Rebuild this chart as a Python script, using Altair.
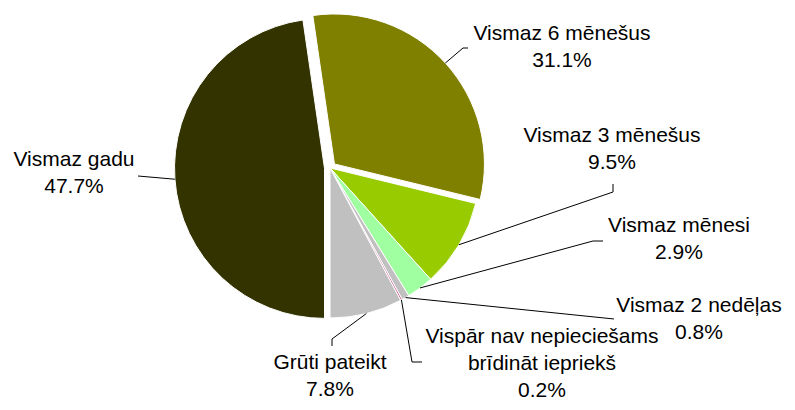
import math
import numpy as np
import pandas as pd
import altair as alt

# ---- data ----
categories = [
    "Vismaz gadu",
    "Vismaz 6 mēnešus",
    "Vismaz 3 mēnešus",
    "Vismaz mēnesi",
    "Vismaz 2 nedēļas",
    "Vispār nav nepieciešams brīdināt iepriekš",
    "Grūti pateikt",
]
values = [47.7, 31.1, 9.5, 2.9, 0.8, 0.2, 7.8]
colors = ["#333300", "#808000", "#99CC00", "#A0FFA0", "#C0C0C0", "#CC6699", "#C0C0C0"]

# ---- layout (page pixel coordinates) ----
M = 8
CX, CY, R = 330 - M, 168 - M, 150
FONT = "Liberation Sans"
FS = 21
LH = 27
explode = {"Vismaz gadu": 5.5, "Vismaz 6 mēnešus": 6.0}
label_text = {
    "Vispār nav nepieciešams brīdināt iepriekš": "Vispār nav nepieciešams\nbrīdināt iepriekš",
}
label_pos = {
    "Vismaz gadu": (74, 166),
    "Vismaz 6 mēnešus": (562, 40),
    "Vismaz 3 mēnešus": (612, 142),
    "Vismaz mēnesi": (679, 232),
    "Vismaz 2 nedēļas": (699, 312),
    "Vispār nav nepieciešams brīdināt iepriekš": (542, 343),
    "Grūti pateikt": (330, 369),
}
leader_pts = {
    "Vismaz gadu": [(138, 176)],
    "Vismaz 6 mēnešus": [(463, 48), (468, 48)],
    "Vismaz 3 mēnešus": [(613, 192), (613, 184)],
    "Vismaz mēnesi": [(593, 241), (603, 241)],
    "Vismaz 2 nedēļas": [(614, 319)],
    "Vispār nav nepieciešams brīdināt iepriekš": [(412, 362), (422, 362)],
    "Grūti pateikt": [(332, 339), (332, 346)],
}

vals = np.array(values, dtype=float)
total = vals.sum()
ends = np.cumsum(vals)
starts = ends - vals
mids = math.pi + 2 * math.pi * (starts + ends) / 2 / total

pie_rows, seg_rows, txt_rows = [], [], []
for i, c in enumerate(categories):
    e = explode.get(c, 0.0)
    a = mids[i]
    cx = CX + e * math.sin(a)
    cy = CY - e * math.cos(a)
    pie_rows.append({"category": c, "start": starts[i], "end": ends[i], "cx": cx, "cy": cy})
    pts = [(cx + R * math.sin(a), cy - R * math.cos(a))] + [(x - M, y - M) for x, y in leader_pts[c]]
    for (x1, y1), (x2, y2) in zip(pts[:-1], pts[1:]):
        seg_rows.append({"category": c, "x": x1, "y": y1, "x2": x2, "y2": y2})
    lx, ly = label_pos[c]
    txt_rows.append({
        "category": c,
        "label": label_text.get(c, c) + "\n" + f"{values[i]:.1f}%",
        "x": lx - M, "y": ly - M,
    })

pie_df = pd.DataFrame(pie_rows)
seg_df = pd.DataFrame(seg_rows)
txt_df = pd.DataFrame(txt_rows)

pie = alt.Chart(pie_df).mark_arc(radius=R, stroke="white", strokeWidth=1).encode(
    theta=alt.Theta("start:Q", scale=alt.Scale(domain=[0, float(total)], range=[math.pi, 3 * math.pi])),
    theta2="end:Q",
    x=alt.X("cx:Q", scale=None),
    y=alt.Y("cy:Q", scale=None),
    color=alt.Color("category:N", scale=alt.Scale(domain=categories, range=colors), legend=None),
)

leaders = alt.Chart(seg_df).mark_rule(color="black", strokeWidth=1).encode(
    x=alt.X("x:Q", scale=None),
    y=alt.Y("y:Q", scale=None),
    x2="x2:Q",
    y2="y2:Q",
)

labels = alt.Chart(txt_df).mark_text(
    font=FONT, fontSize=FS, lineHeight=LH, align="center", baseline="alphabetic",
    lineBreak="\n", color="black",
).encode(
    x=alt.X("x:Q", scale=None),
    y=alt.Y("y:Q", scale=None),
    text="label:N",
)

chart = alt.layer(pie, leaders, labels).properties(
    width=779, height=394,
    autosize=alt.AutoSizeParams(type="none"),
    padding=0,
).configure_view(stroke=None)

chart.save("out.html", embed_options={"renderer": "svg", "actions": False})
